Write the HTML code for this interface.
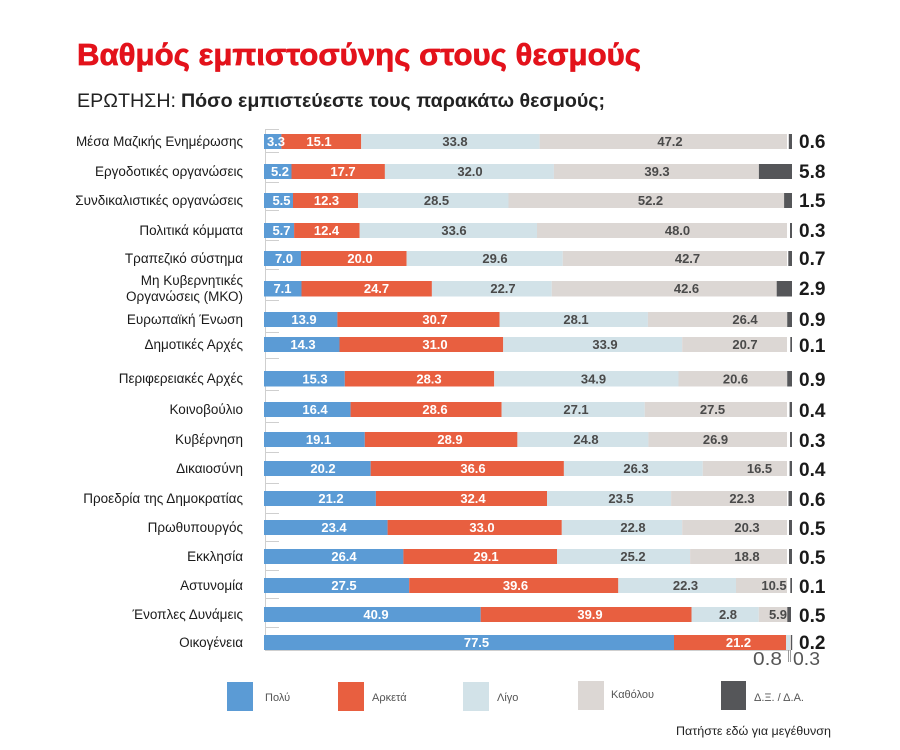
<!DOCTYPE html>
<html><head><meta charset="utf-8"><style>
html,body{margin:0;padding:0;background:#fff;}
svg{display:block;}
text{font-family:"Liberation Sans","DejaVu Sans",sans-serif;}
.lb{font-size:13.5px;fill:#1a1a1a;text-anchor:end;}
.w{font-size:13px;font-weight:bold;fill:#fff;text-anchor:middle;}
.d{font-size:13px;font-weight:bold;fill:#4a4a4a;text-anchor:middle;}
.rv{font-size:19px;font-weight:bold;fill:#1a1a1a;}
.lg{font-size:11px;fill:#555;}
</style></head><body>
<svg width="900" height="750" viewBox="0 0 900 750" xmlns="http://www.w3.org/2000/svg">
<rect width="900" height="750" fill="#fff"/>
<text x="77" y="65" font-size="31" font-weight="bold" fill="#e3121b" stroke="#e3121b" stroke-width="0.7" textLength="564" lengthAdjust="spacingAndGlyphs">Βαθμός εμπιστοσύνης στους θεσμούς</text>
<text x="77" y="107" font-size="19" fill="#222" textLength="99" lengthAdjust="spacingAndGlyphs">ΕΡΩΤΗΣΗ:</text>
<text x="181" y="107" font-size="19" font-weight="bold" fill="#222" textLength="424" lengthAdjust="spacingAndGlyphs">Πόσο εμπιστεύεστε τους παρακάτω θεσμούς;</text>

<!-- axis -->
<g stroke="#cfcfcf" stroke-width="1">
<line x1="265.5" y1="129" x2="265.5" y2="651"/>
<line x1="265" y1="650.5" x2="790" y2="650.5"/>
<line x1="265" y1="129.5" x2="279" y2="129.5"/>
<line x1="265" y1="152.5" x2="279" y2="152.5"/>
<line x1="265" y1="182.5" x2="279" y2="182.5"/>
<line x1="265" y1="210.5" x2="279" y2="210.5"/>
<line x1="265" y1="240.5" x2="279" y2="240.5"/>
<line x1="265" y1="269.5" x2="279" y2="269.5"/>
<line x1="265" y1="300.5" x2="279" y2="300.5"/>
<line x1="265" y1="332.5" x2="279" y2="332.5"/>
<line x1="265" y1="358.5" x2="279" y2="358.5"/>
<line x1="265" y1="390.5" x2="279" y2="390.5"/>
<line x1="265" y1="422.5" x2="279" y2="422.5"/>
<line x1="265" y1="452.5" x2="279" y2="452.5"/>
<line x1="265" y1="483.5" x2="279" y2="483.5"/>
<line x1="265" y1="513.5" x2="279" y2="513.5"/>
<line x1="265" y1="541.5" x2="279" y2="541.5"/>
<line x1="265" y1="570.5" x2="279" y2="570.5"/>
<line x1="265" y1="598.5" x2="279" y2="598.5"/>
<line x1="265" y1="627.5" x2="279" y2="627.5"/>
</g>

<!-- Row 1 -->
<g transform="translate(0,134)">
<rect x="264" y="0" width="17.4" height="15" fill="#5b9bd5"/>
<rect x="281.4" y="0" width="79.8" height="15" fill="#e85f40"/>
<rect x="361.2" y="0" width="178.4" height="15" fill="#d2e2e8"/>
<rect x="539.6" y="0" width="247.4" height="15" fill="#dcd7d4"/>
<rect x="788.8" y="0" width="3.2" height="15" fill="#555659"/>
<text class="lb" x="243" y="12">Μέσα Μαζικής Ενημέρωσης</text>
<text class="w" x="276" y="12">3.3</text><text class="w" x="319" y="12">15.1</text>
<text class="d" x="455" y="12">33.8</text><text class="d" x="670" y="12">47.2</text>
<text class="rv" x="799" y="14">0.6</text>
</g>
<!-- Row 2 -->
<g transform="translate(0,164)">
<rect x="264" y="0" width="27.5" height="15" fill="#5b9bd5"/>
<rect x="291.5" y="0" width="93.4" height="15" fill="#e85f40"/>
<rect x="384.9" y="0" width="169" height="15" fill="#d2e2e8"/>
<rect x="553.9" y="0" width="205" height="15" fill="#dcd7d4"/>
<rect x="758.9" y="0" width="33.1" height="15" fill="#555659"/>
<text class="lb" x="243" y="12">Εργοδοτικές οργανώσεις</text>
<text class="w" x="280" y="12">5.2</text><text class="w" x="343" y="12">17.7</text>
<text class="d" x="470" y="12">32.0</text><text class="d" x="657" y="12">39.3</text>
<text class="rv" x="799" y="14">5.8</text>
</g>
<!-- Row 3 -->
<g transform="translate(0,193)">
<rect x="264" y="0" width="29" height="15" fill="#5b9bd5"/>
<rect x="293" y="0" width="65" height="15" fill="#e85f40"/>
<rect x="358" y="0" width="150.5" height="15" fill="#d2e2e8"/>
<rect x="508.5" y="0" width="275.6" height="15" fill="#dcd7d4"/>
<rect x="784.1" y="0" width="7.9" height="15" fill="#555659"/>
<text class="lb" x="243" y="12">Συνδικαλιστικές οργανώσεις</text>
<text class="w" x="281.5" y="12">5.5</text><text class="w" x="326.5" y="12">12.3</text>
<text class="d" x="436.5" y="12">28.5</text><text class="d" x="650.5" y="12">52.2</text>
<text class="rv" x="799" y="14">1.5</text>
</g>
<!-- Row 4 -->
<g transform="translate(0,223)">
<rect x="264" y="0" width="30.1" height="15" fill="#5b9bd5"/>
<rect x="294.1" y="0" width="65.5" height="15" fill="#e85f40"/>
<rect x="359.6" y="0" width="177.4" height="15" fill="#d2e2e8"/>
<rect x="537" y="0" width="250" height="15" fill="#dcd7d4"/>
<rect x="790" y="0" width="2" height="15" fill="#555659"/>
<text class="lb" x="243" y="12">Πολιτικά κόμματα</text>
<text class="w" x="281.5" y="12">5.7</text><text class="w" x="326.5" y="12">12.4</text>
<text class="d" x="454" y="12">33.6</text><text class="d" x="677.5" y="12">48.0</text>
<text class="rv" x="799" y="14">0.3</text>
</g>
<!-- Row 5 -->
<g transform="translate(0,251)">
<rect x="264" y="0" width="37" height="15" fill="#5b9bd5"/>
<rect x="301" y="0" width="105.6" height="15" fill="#e85f40"/>
<rect x="406.6" y="0" width="156.2" height="15" fill="#d2e2e8"/>
<rect x="562.8" y="0" width="224.2" height="15" fill="#dcd7d4"/>
<rect x="788.3" y="0" width="3.7" height="15" fill="#555659"/>
<text class="lb" x="243" y="12">Τραπεζικό σύστημα</text>
<text class="w" x="284" y="12">7.0</text><text class="w" x="360" y="12">20.0</text>
<text class="d" x="495" y="12">29.6</text><text class="d" x="687.5" y="12">42.7</text>
<text class="rv" x="799" y="14">0.7</text>
</g>
<!-- Row 6 -->
<g transform="translate(0,281)">
<rect x="264" y="0" width="37.5" height="15.5" fill="#5b9bd5"/>
<rect x="301.5" y="0" width="130.4" height="15.5" fill="#e85f40"/>
<rect x="431.9" y="0" width="119.9" height="15.5" fill="#d2e2e8"/>
<rect x="551.8" y="0" width="224.9" height="15.5" fill="#dcd7d4"/>
<rect x="776.7" y="0" width="15.3" height="15.5" fill="#555659"/>
<text class="lb" x="243" y="4">Μη Κυβερνητικές</text>
<text class="lb" x="243" y="20">Οργανώσεις  (ΜΚΟ)</text>
<text class="w" x="282.5" y="12">7.1</text><text class="w" x="376.5" y="12">24.7</text>
<text class="d" x="503" y="12">22.7</text><text class="d" x="686.5" y="12">42.6</text>
<text class="rv" x="799" y="14">2.9</text>
</g>
<!-- Row 7 -->
<g transform="translate(0,312)">
<rect x="264" y="0" width="73.4" height="15" fill="#5b9bd5"/>
<rect x="337.4" y="0" width="162.1" height="15" fill="#e85f40"/>
<rect x="499.5" y="0" width="148.4" height="15" fill="#d2e2e8"/>
<rect x="647.9" y="0" width="139.1" height="15" fill="#dcd7d4"/>
<rect x="787.2" y="0" width="4.8" height="15" fill="#555659"/>
<text class="lb" x="243" y="12">Ευρωπαϊκή Ένωση</text>
<text class="w" x="304" y="12">13.9</text><text class="w" x="435" y="12">30.7</text>
<text class="d" x="576" y="12">28.1</text><text class="d" x="745" y="12">26.4</text>
<text class="rv" x="799" y="14">0.9</text>
</g>
<!-- Row 8 -->
<g transform="translate(0,337)">
<rect x="264" y="0" width="75.5" height="15" fill="#5b9bd5"/>
<rect x="339.5" y="0" width="163.7" height="15" fill="#e85f40"/>
<rect x="503.2" y="0" width="179" height="15" fill="#d2e2e8"/>
<rect x="682.2" y="0" width="104.8" height="15" fill="#dcd7d4"/>
<rect x="790.3" y="0" width="1.7" height="15" fill="#555659"/>
<text class="lb" x="243" y="12">Δημοτικές Αρχές</text>
<text class="w" x="303" y="12">14.3</text><text class="w" x="435" y="12">31.0</text>
<text class="d" x="605" y="12">33.9</text><text class="d" x="745" y="12">20.7</text>
<text class="rv" x="799" y="15">0.1</text>
</g>
<!-- Row 9 -->
<g transform="translate(0,371)">
<rect x="264" y="0" width="80.8" height="15.5" fill="#5b9bd5"/>
<rect x="344.8" y="0" width="149.4" height="15.5" fill="#e85f40"/>
<rect x="494.2" y="0" width="184.3" height="15.5" fill="#d2e2e8"/>
<rect x="678.5" y="0" width="108.5" height="15.5" fill="#dcd7d4"/>
<rect x="787.2" y="0" width="4.8" height="15.5" fill="#555659"/>
<text class="lb" x="243" y="12">Περιφερειακές Αρχές</text>
<text class="w" x="315" y="12.5">15.3</text><text class="w" x="429" y="12.5">28.3</text>
<text class="d" x="593.5" y="12.5">34.9</text><text class="d" x="735.5" y="12.5">20.6</text>
<text class="rv" x="799" y="15">0.9</text>
</g>
<!-- Row 10 -->
<g transform="translate(0,402)">
<rect x="264" y="0" width="86.6" height="15" fill="#5b9bd5"/>
<rect x="350.6" y="0" width="151" height="15" fill="#e85f40"/>
<rect x="501.6" y="0" width="143.1" height="15" fill="#d2e2e8"/>
<rect x="644.7" y="0" width="142.3" height="15" fill="#dcd7d4"/>
<rect x="789.6" y="0" width="2.4" height="15" fill="#555659"/>
<text class="lb" x="243" y="12">Κοινοβούλιο</text>
<text class="w" x="315" y="12">16.4</text><text class="w" x="435" y="12">28.6</text>
<text class="d" x="576" y="12">27.1</text><text class="d" x="712.5" y="12">27.5</text>
<text class="rv" x="799" y="15">0.4</text>
</g>
<!-- Row 11 -->
<g transform="translate(0,432)">
<rect x="264" y="0" width="100.8" height="15" fill="#5b9bd5"/>
<rect x="364.8" y="0" width="152.6" height="15" fill="#e85f40"/>
<rect x="517.4" y="0" width="131" height="15" fill="#d2e2e8"/>
<rect x="648.4" y="0" width="138.6" height="15" fill="#dcd7d4"/>
<rect x="790" y="0" width="2" height="15" fill="#555659"/>
<text class="lb" x="243" y="12">Κυβέρνηση</text>
<text class="w" x="318.5" y="12">19.1</text><text class="w" x="450" y="12">28.9</text>
<text class="d" x="586" y="12">24.8</text><text class="d" x="715.5" y="12">26.9</text>
<text class="rv" x="799" y="15">0.3</text>
</g>
<!-- Row 12 -->
<g transform="translate(0,461)">
<rect x="264" y="0" width="106.7" height="15" fill="#5b9bd5"/>
<rect x="370.7" y="0" width="193.2" height="15" fill="#e85f40"/>
<rect x="563.9" y="0" width="138.9" height="15" fill="#d2e2e8"/>
<rect x="702.8" y="0" width="84.2" height="15" fill="#dcd7d4"/>
<rect x="789.6" y="0" width="2.4" height="15" fill="#555659"/>
<text class="lb" x="243" y="12">Δικαιοσύνη</text>
<text class="w" x="323" y="12">20.2</text><text class="w" x="473" y="12">36.6</text>
<text class="d" x="636" y="12">26.3</text><text class="d" x="759.5" y="12">16.5</text>
<text class="rv" x="799" y="15">0.4</text>
</g>
<!-- Row 13 -->
<g transform="translate(0,491)">
<rect x="264" y="0" width="111.9" height="15" fill="#5b9bd5"/>
<rect x="375.9" y="0" width="171.1" height="15" fill="#e85f40"/>
<rect x="547" y="0" width="124.1" height="15" fill="#d2e2e8"/>
<rect x="671.1" y="0" width="115.9" height="15" fill="#dcd7d4"/>
<rect x="788.5" y="0" width="3.5" height="15" fill="#555659"/>
<text class="lb" x="243" y="12">Προεδρία της Δημοκρατίας</text>
<text class="w" x="331" y="12">21.2</text><text class="w" x="473" y="12">32.4</text>
<text class="d" x="621" y="12">23.5</text><text class="d" x="742" y="12">22.3</text>
<text class="rv" x="799" y="15">0.6</text>
</g>
<!-- Row 14 -->
<g transform="translate(0,520)">
<rect x="264" y="0" width="123.6" height="15" fill="#5b9bd5"/>
<rect x="387.6" y="0" width="174.2" height="15" fill="#e85f40"/>
<rect x="561.8" y="0" width="120.4" height="15" fill="#d2e2e8"/>
<rect x="682.2" y="0" width="104.8" height="15" fill="#dcd7d4"/>
<rect x="789" y="0" width="3" height="15" fill="#555659"/>
<text class="lb" x="243" y="12">Πρωθυπουργός</text>
<text class="w" x="334" y="12">23.4</text><text class="w" x="482" y="12">33.0</text>
<text class="d" x="633" y="12">22.8</text><text class="d" x="747" y="12">20.3</text>
<text class="rv" x="799" y="15">0.5</text>
</g>
<!-- Row 15 -->
<g transform="translate(0,549)">
<rect x="264" y="0" width="139.4" height="15" fill="#5b9bd5"/>
<rect x="403.4" y="0" width="153.6" height="15" fill="#e85f40"/>
<rect x="557" y="0" width="133.1" height="15" fill="#d2e2e8"/>
<rect x="690.1" y="0" width="96.9" height="15" fill="#dcd7d4"/>
<rect x="789" y="0" width="3" height="15" fill="#555659"/>
<text class="lb" x="243" y="12">Εκκλησία</text>
<text class="w" x="344" y="12">26.4</text><text class="w" x="486" y="12">29.1</text>
<text class="d" x="633" y="12">25.2</text><text class="d" x="747" y="12">18.8</text>
<text class="rv" x="799" y="15">0.5</text>
</g>
<!-- Row 16 -->
<g transform="translate(0,578)">
<rect x="264" y="0" width="145.2" height="15" fill="#5b9bd5"/>
<rect x="409.2" y="0" width="209.1" height="15" fill="#e85f40"/>
<rect x="618.3" y="0" width="117.7" height="15" fill="#d2e2e8"/>
<rect x="736" y="0" width="51" height="15" fill="#dcd7d4"/>
<rect x="790.3" y="0" width="1.7" height="15" fill="#555659"/>
<text class="lb" x="243" y="12">Αστυνομία</text>
<text class="w" x="344" y="12">27.5</text><text class="w" x="515.5" y="12">39.6</text>
<text class="d" x="685.5" y="12">22.3</text><text class="d" x="774" y="12">10.5</text>
<text class="rv" x="799" y="15">0.1</text>
</g>
<!-- Row 17 -->
<g transform="translate(0,607)">
<rect x="264" y="0" width="216.7" height="15" fill="#5b9bd5"/>
<rect x="480.7" y="0" width="210.8" height="15" fill="#e85f40"/>
<rect x="691.5" y="0" width="67.3" height="15" fill="#d2e2e8"/>
<rect x="758.8" y="0" width="28.5" height="15" fill="#dcd7d4"/>
<rect x="787.3" y="0" width="3.7" height="15" fill="#555659"/>
<text class="lb" x="243" y="12">Ένοπλες Δυνάμεις</text>
<text class="w" x="376" y="12">40.9</text><text class="w" x="590" y="12">39.9</text>
<text class="d" x="728" y="12">2.8</text><text class="d" x="778" y="12">5.9</text>
<text class="rv" x="799" y="15">0.5</text>
</g>
<!-- Row 18 -->
<g transform="translate(0,635)">
<rect x="264" y="0" width="410" height="15" fill="#5b9bd5"/>
<rect x="674" y="0" width="112" height="15" fill="#e85f40"/>
<rect x="786" y="0" width="4" height="15" fill="#d2e2e8"/>
<rect x="790" y="0" width="1" height="15" fill="#dcd7d4"/>
<rect x="791" y="0" width="1.2" height="15" fill="#555659"/>
<text class="lb" x="243" y="12">Οικογένεια</text>
<text class="w" x="476.5" y="12">77.5</text><text class="w" x="738.5" y="12">21.2</text>
<text class="rv" x="799" y="14">0.2</text>
</g>
<g stroke="#9a9a9a" stroke-width="1">
<line x1="788.5" y1="650" x2="788.5" y2="662"/>
<line x1="790.5" y1="650" x2="790.5" y2="662"/>
</g>
<text x="753" y="665" font-size="18" fill="#555" textLength="29" lengthAdjust="spacingAndGlyphs">0.8</text>
<text x="793" y="665" font-size="18" fill="#555" textLength="27" lengthAdjust="spacingAndGlyphs">0.3</text>

<!-- legend -->
<rect x="227" y="682" width="26" height="29" fill="#5b9bd5"/>
<text class="lg" x="265" y="701">Πολύ</text>
<rect x="338" y="682" width="26" height="29" fill="#e85f40"/>
<text class="lg" x="372" y="701">Αρκετά</text>
<rect x="463" y="682" width="26" height="29" fill="#d2e2e8"/>
<text class="lg" x="497" y="701">Λίγο</text>
<rect x="578" y="681" width="26" height="29" fill="#dcd7d4"/>
<text class="lg" x="611" y="698">Καθόλου</text>
<rect x="721" y="681" width="25" height="29" fill="#555659"/>
<text class="lg" x="754" y="701">Δ.Ξ. / Δ.Α.</text>
<text x="676" y="735" font-size="12" fill="#222" textLength="155" lengthAdjust="spacingAndGlyphs">Πατήστε εδώ για μεγέθυνση</text>
</svg>
</body></html>
